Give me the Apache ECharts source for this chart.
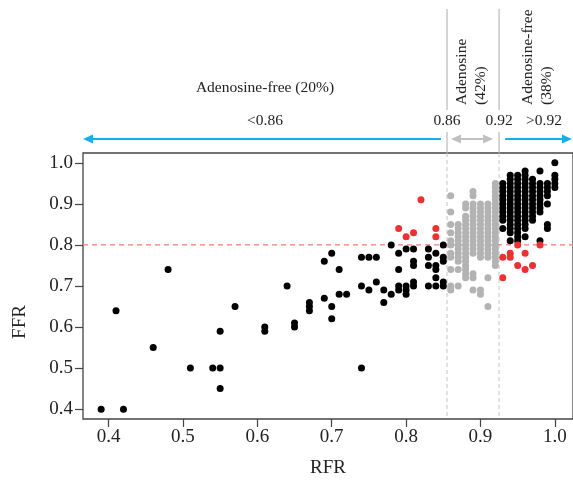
<!DOCTYPE html>
<html><head><meta charset="utf-8">
<script src="https://cdn.jsdelivr.net/npm/echarts@6.0.0/dist/echarts.min.js"></script>
<style>html,body{margin:0;padding:0;background:#fff}#c{width:573px;height:483px}</style>
</head><body><div id="c"></div>
<script>
// ---- data ----
const xTicks = [0.4, 0.5, 0.6, 0.7, 0.8, 0.9, 1.0];
const yTicks = [0.4, 0.5, 0.6, 0.7, 0.8, 0.9, 1.0];
const cutLow = 0.855;   // boundary drawn between 0.85 and 0.86
const cutHigh = 0.925;  // boundary drawn between 0.92 and 0.93
const ffrCut = 0.80;
const regionTitle = "Adenosine-free (20%)";
const regionLabels = ["<0.86", "0.86", "0.92", ">0.92"];
const midLabel = ["Adenosine", "(42%)"];
const rightLabel = ["Adenosine-free", "(38%)"];

// black points, RFR < 0.86 (concordant)
const blackLeft = [
 [0.39,0.40],[0.42,0.40],[0.41,0.64],[0.46,0.55],[0.48,0.74],[0.51,0.50],[0.54,0.50],[0.55,0.50],[0.55,0.45],[0.55,0.59],[0.57,0.65],[0.61,0.60],[0.61,0.59],
 [0.64,0.70],[0.65,0.61],[0.65,0.60],[0.67,0.66],[0.67,0.65],[0.67,0.64],[0.69,0.76],[0.69,0.67],[0.70,0.78],[0.70,0.65],[0.70,0.62],[0.71,0.74],[0.71,0.68],[0.72,0.68],
 [0.74,0.77],[0.74,0.70],[0.74,0.50],[0.75,0.77],[0.75,0.69],[0.76,0.77],[0.76,0.71],[0.77,0.69],[0.77,0.66],[0.78,0.80],[0.78,0.68],
 [0.79,0.78],[0.79,0.74],[0.79,0.70],[0.79,0.69],[0.80,0.79],[0.80,0.70],[0.80,0.69],[0.80,0.68],[0.81,0.79],[0.81,0.76],[0.81,0.75],[0.81,0.71],[0.81,0.70],
 [0.83,0.79],[0.83,0.77],[0.83,0.75],[0.83,0.70],[0.84,0.78],[0.84,0.75],[0.84,0.74],[0.84,0.72],[0.84,0.70],[0.85,0.80],[0.85,0.77],[0.85,0.76],[0.85,0.71],[0.85,0.70]
];
// black points, RFR > 0.92 : [RFR, [FFR values]]
const blackRight = [
 [0.93, [0.95,0.94,0.93,0.92,0.91,0.90,0.89,0.88,0.87,0.86,0.84]],
 [0.94, [0.97,0.96,0.95,0.94,0.93,0.92,0.91,0.90,0.89,0.88,0.87,0.86,0.85,0.84,0.83,0.81]],
 [0.95, [0.97,0.96,0.95,0.94,0.93,0.92,0.91,0.90,0.89,0.88,0.87,0.86,0.85,0.84,0.83,0.82,0.81]],
 [0.96, [0.98,0.97,0.96,0.95,0.94,0.93,0.92,0.91,0.90,0.89,0.88,0.87,0.86,0.85,0.84,0.82]],
 [0.97, [0.96,0.95,0.94,0.93,0.92,0.91,0.90,0.89,0.88,0.87,0.86]],
 [0.98, [0.98,0.95,0.94,0.93,0.92,0.91,0.90,0.89,0.88,0.81]],
 [0.99, [0.95,0.94,0.93,0.92,0.90,0.85,0.84]],
 [1.00, [1.00,0.97,0.96,0.95,0.94]]
];
// grey points, 0.86 <= RFR <= 0.92 : [RFR, [FFR values]]
const grayCols = [
 [0.86, [0.92,0.88,0.85,0.83,0.81,0.80,0.78,0.77,0.74,0.70,0.69]],
 [0.87, [0.85,0.84,0.83,0.82,0.81,0.80,0.79,0.78,0.77,0.76,0.74,0.70]],
 [0.88, [0.90,0.89,0.87,0.86,0.85,0.84,0.83,0.82,0.81,0.80,0.79,0.78,0.77,0.76,0.75,0.74,0.73,0.72]],
 [0.89, [0.93,0.92,0.90,0.89,0.88,0.87,0.86,0.85,0.84,0.83,0.82,0.81,0.80,0.79,0.78,0.73,0.72,0.69]],
 [0.90, [0.90,0.89,0.88,0.87,0.86,0.85,0.84,0.83,0.82,0.81,0.80,0.79,0.78,0.77,0.69,0.68]],
 [0.91, [0.90,0.89,0.88,0.87,0.86,0.85,0.84,0.83,0.82,0.81,0.80,0.79,0.78,0.77,0.72,0.65]],
 [0.92, [0.95,0.94,0.93,0.92,0.91,0.90,0.89,0.88,0.87,0.86,0.85,0.84,0.83,0.82,0.81,0.80,0.79,0.78,0.77,0.76,0.75]]
];
// red points (discordant)
const redPoints = [
 [0.82,0.91],[0.79,0.84],[0.80,0.82],[0.81,0.83],[0.84,0.84],[0.84,0.82],
 [0.95,0.80],[0.98,0.80],[0.93,0.77],[0.94,0.78],[0.94,0.77],[0.96,0.78],[0.95,0.75],[0.96,0.74],[0.97,0.75],[0.93,0.72]
];

// ---- build ----
const expand = cols => cols.flatMap(([x, ys]) => ys.map(y => [x, y]));
const blackData = blackLeft.concat(expand(blackRight));
const grayData = expand(grayCols);

const FONT = "Liberation Serif";
const XMIN = 0.3656, XMAX = 1.0244, YMIN = 0.376, YMAX = 1.024;
const GL = 83, GT = 153, GW = 492, GB = 62.4;
const chart = echarts.init(document.getElementById('c'), null, {renderer: 'canvas'});
const axisCommon = {
  axisLine: {show: false},
  axisTick: {show: true, length: 8, lineStyle: {color: '#444', width: 1.2}},
  axisLabel: {color: '#222', fontFamily: FONT, fontSize: 19, formatter: v => v.toFixed(1)},
  splitLine: {show: false}
};
chart.setOption({
  animation: false,
  backgroundColor: '#fff',
  grid: {left: GL, top: GT, width: GW, bottom: GB, show: true, borderColor: '#444', borderWidth: 1.3, backgroundColor: 'transparent'},
  xAxis: Object.assign({}, axisCommon, {
    type: 'value', min: XMIN, max: XMAX,
    axisTick: Object.assign({}, axisCommon.axisTick, {customValues: xTicks}),
    axisLabel: Object.assign({}, axisCommon.axisLabel, {customValues: xTicks, margin: 9}),
    name: 'RFR', nameLocation: 'middle', nameGap: 40,
    nameTextStyle: {color: '#222', fontFamily: FONT, fontSize: 19}
  }),
  yAxis: Object.assign({}, axisCommon, {
    type: 'value', min: YMIN, max: YMAX,
    axisTick: Object.assign({}, axisCommon.axisTick, {customValues: yTicks}),
    axisLabel: Object.assign({}, axisCommon.axisLabel, {customValues: yTicks, margin: 10})
  }),
  series: [
    {type: 'scatter', data: grayData, symbolSize: 7, itemStyle: {color: '#b3b3b3', opacity: 1}, z: 2},
    {type: 'scatter', data: blackData, symbolSize: 7, itemStyle: {color: '#000', opacity: 1}, z: 3},
    {type: 'scatter', data: redPoints, symbolSize: 7, itemStyle: {color: '#ee3030', opacity: 1}, z: 4}
  ]
});

// ---- reference lines and annotations ----
const X = v => chart.convertToPixel({xAxisIndex: 0}, v);
const Y = v => chart.convertToPixel({yAxisIndex: 0}, v);
const xl = X(cutLow), xh = X(cutHigh), xmid = X((XMIN + cutLow) / 2);
const yTop = Y(YMAX), yBot = Y(YMIN), yCut = Y(ffrCut);
const AY = 139, BLUE = '#1aaee6', GRAY = '#c0c0c0';
const head = (tx, dir, color) => ({type: 'polygon', shape: {points: [[tx, AY], [tx - dir * 10, AY - 4.5], [tx - dir * 10, AY + 4.5]]}, style: {fill: color}, z: 10});
const shaft = (a, b, color) => ({type: 'line', shape: {x1: a, y1: AY, x2: b, y2: AY}, style: {stroke: color, lineWidth: 1.8}, z: 10});
const txt = (x, y, s, extra) => ({type: 'text', x: x, y: y, style: Object.assign({text: s, fontFamily: FONT, fontSize: 15.5, fill: '#222', align: 'center', verticalAlign: 'middle'}, extra || {}), z: 12});
const vtxt = (x, s) => ({type: 'text', x: x, y: 105, rotation: Math.PI / 2, style: {text: s, fontFamily: FONT, fontSize: 15.5, fill: '#222', align: 'left', verticalAlign: 'middle'}, z: 12});
const dashV = x => ({type: 'line', shape: {x1: x, y1: yTop, x2: x, y2: yBot}, style: {stroke: '#c4c4c4', lineWidth: 1, lineDash: [4, 3]}, z: 1});
const gfx = [
  dashV(xl), dashV(xh),
  {type: 'line', shape: {x1: GL, y1: yCut, x2: 575, y2: yCut}, style: {stroke: '#f07a7a', lineWidth: 1.3, lineDash: [5, 4]}, z: 1},
  {type: 'line', shape: {x1: xl, y1: 9, x2: xl, y2: GT}, style: {stroke: '#aaaaaa', lineWidth: 1}, z: 5},
  {type: 'line', shape: {x1: xh, y1: 9, x2: xh, y2: GT}, style: {stroke: '#aaaaaa', lineWidth: 1}, z: 5},
  shaft(GL + 4, xl - 6, BLUE), head(GL, -1, BLUE),
  shaft(xl + 6, xh - 8, GRAY), head(xl + 4, -1, GRAY), head(xh - 6, 1, GRAY),
  shaft(xh + 6, 568, BLUE), head(572, 1, BLUE),
  txt(xmid, 88, regionTitle),
  txt(xmid, 121, regionLabels[0]),
  txt(xl, 121, regionLabels[1], {backgroundColor: '#fff', padding: [3, 1]}),
  txt(xh, 121, regionLabels[2], {backgroundColor: '#fff', padding: [3, 1]}),
  txt(544, 121, regionLabels[3]),
  vtxt(xl + 15, midLabel[0]), vtxt(xl + 34, midLabel[1]),
  vtxt(xh + 29, rightLabel[0]), vtxt(xh + 48, rightLabel[1]),
  {type: 'text', x: 20, y: 322, rotation: Math.PI / 2, style: {text: 'FFR', fontFamily: FONT, fontSize: 19, fill: '#222', align: 'center', verticalAlign: 'middle'}, z: 12}
];
chart.setOption({graphic: gfx});
</script></body></html>
